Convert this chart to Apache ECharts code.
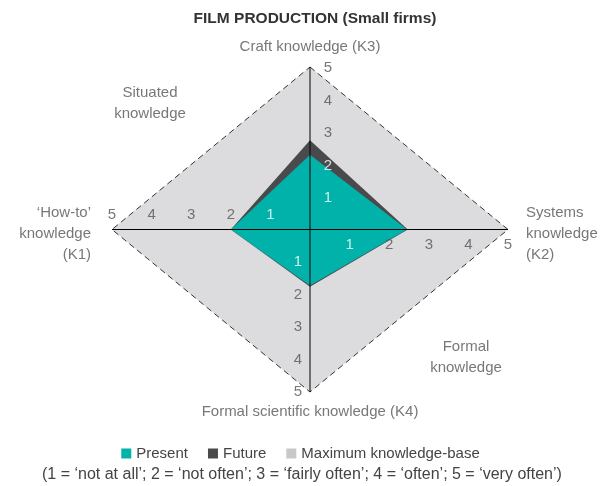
<!DOCTYPE html>
<html>
<head>
<meta charset="utf-8">
<script src="https://cdn.jsdelivr.net/npm/echarts@6/dist/echarts.min.js"></script>
<style>
  html, body { margin: 0; padding: 0; background: #fff; }
  #chart { width: 601px; height: 486px; }
</style>
</head>
<body>
<div id="chart"></div>
<script>
// knowledge axes: K1 left, K2 right, K3 top, K4 bottom
const axisKeys    = ['K1', 'K2', 'K3', 'K4'];
const presentVals = [2.0, 2.45, 2.3, 1.72];
const futureVals  = [2.0, 2.47, 2.75, 1.76];
const maxVals     = [5, 5, 5, 5];
const tickLabels  = ['1', '2', '3', '4', '5'];
const seriesNames = ['Present', 'Future', 'Maximum knowledge-base'];
const footnote = '(1 = \u2018not at all\u2019; 2 = \u2018not often\u2019; 3 = \u2018fairly often\u2019; 4 = \u2018often\u2019; 5 = \u2018very often\u2019)';

const FONT = 'Liberation Sans';
const FS = 15;
const TXT = '#555';
const COLORS = { present: '#00b2a9', future: '#4a4a4c', max: '#dcdcde', maxLegend: '#c8c8ca' };

// unit direction of each axis in data space
const dirs = { K1: [-1, 0], K2: [1, 0], K3: [0, 1], K4: [0, -1] };
const order = ['K3', 'K2', 'K4', 'K1'];   // polygon vertex order

function vertices(vals) {
  return order.map(k => {
    const v = vals[axisKeys.indexOf(k)];
    return [dirs[k][0] * v, dirs[k][1] * v];
  });
}

function polygonSeries(name, vals, style, z) {
  const pts = vertices(vals);
  return {
    name,
    type: 'custom',
    z,
    silent: true,
    data: [0],
    renderItem: (params, api) => ({
      type: 'polygon',
      shape: { points: pts.map(p => api.coord(p)) },
      style: style,
    }),
  };
}

// tick labels along each axis (those inside the teal area are white)
const tickData = [];
tickLabels.forEach((t, i) => {
  const v = i + 1;
  tickData.push({ value: [0, v],  name: t, label: { offset: [18, 1],  color: v <= 2 ? '#fff' : TXT } });
  tickData.push({ value: [v, 0],  name: t, label: { offset: [0, 15],  color: v === 1 ? '#fff' : TXT } });
  tickData.push({ value: [-v, 0], name: t, label: { offset: [0, -15], color: v === 1 ? '#fff' : TXT } });
  tickData.push({ value: [0, -v], name: t, label: { offset: [-12, 0], color: v === 1 ? '#fff' : TXT } });
});

// axis / region names
const nameData = [
  { value: [0, 5],      name: 'Craft knowledge (K3)', label: { offset: [0, -20] } },
  { value: [0, -5],     name: 'Formal scientific knowledge (K4)', label: { offset: [0, 20] } },
  { value: [-5, 0],     name: '\u2018How-to\u2019\nknowledge\n(K1)', label: { align: 'right', offset: [-21, 4] } },
  { value: [5, 0],      name: 'Systems\nknowledge\n(K2)', label: { align: 'left', offset: [18, 4] } },
  { value: [-4.04, 3.88], name: 'Situated\nknowledge' },
  { value: [3.94, -3.94], name: 'Formal\nknowledge' },
];

const chart = echarts.init(document.getElementById('chart'), null, { renderer: 'canvas' });

chart.setOption({
  animation: false,
  backgroundColor: '#fff',
  textStyle: { fontFamily: FONT },
  title: {
    text: 'FILM PRODUCTION (Small firms)',
    left: 310, top: 6, textAlign: 'center',
    textStyle: { fontFamily: FONT, fontSize: 15.5, fontWeight: 'bold', color: '#333' },
  },
  grid: { left: 112, right: 93, top: 67, bottom: 94 },
  xAxis: { type: 'value', min: -5, max: 5, show: false },
  yAxis: { type: 'value', min: -5, max: 5, show: false },
  legend: {
    left: 'center', top: 441,
    icon: 'rect', itemWidth: 10, itemHeight: 10, itemGap: 20, itemTextGap: 6,
    textStyle: { fontFamily: FONT, fontSize: FS, color: '#444' },
    data: [
      { name: seriesNames[0], itemStyle: { color: COLORS.present } },
      { name: seriesNames[1], itemStyle: { color: COLORS.future } },
      { name: seriesNames[2], itemStyle: { color: COLORS.maxLegend } },
    ],
    selectedMode: false,
  },
  graphic: [{
    type: 'text', left: 42, top: 467,
    style: { text: footnote, fontFamily: FONT, fontSize: 16, fill: '#444' },
  }],
  series: [
    polygonSeries(seriesNames[2], maxVals,
      { fill: COLORS.max, stroke: '#333', lineWidth: 1, lineDash: [6, 4] }, 1),
    polygonSeries(seriesNames[1], futureVals,
      { fill: COLORS.future }, 2),
    polygonSeries(seriesNames[0], presentVals,
      { fill: COLORS.present }, 3),
    {
      type: 'line', z: 4, silent: true, symbol: 'none',
      lineStyle: { color: '#000', width: 1 },
      data: [[-5, 0], [5, 0]],
    },
    {
      type: 'line', z: 4, silent: true, symbol: 'none',
      lineStyle: { color: '#000', width: 1 },
      data: [[0, -5], [0, 5]],
    },
    {
      type: 'scatter', z: 5, silent: true, symbolSize: 0,
      label: {
        show: true, position: 'inside', formatter: p => p.name,
        fontFamily: FONT, fontSize: FS,
      },
      data: tickData,
    },
    {
      type: 'scatter', z: 5, silent: true, symbolSize: 0,
      label: {
        show: true, position: 'inside', formatter: p => p.name,
        fontFamily: FONT, fontSize: FS, color: TXT, lineHeight: 21,
      },
      data: nameData,
    },
  ],
});
</script>
</body>
</html>
